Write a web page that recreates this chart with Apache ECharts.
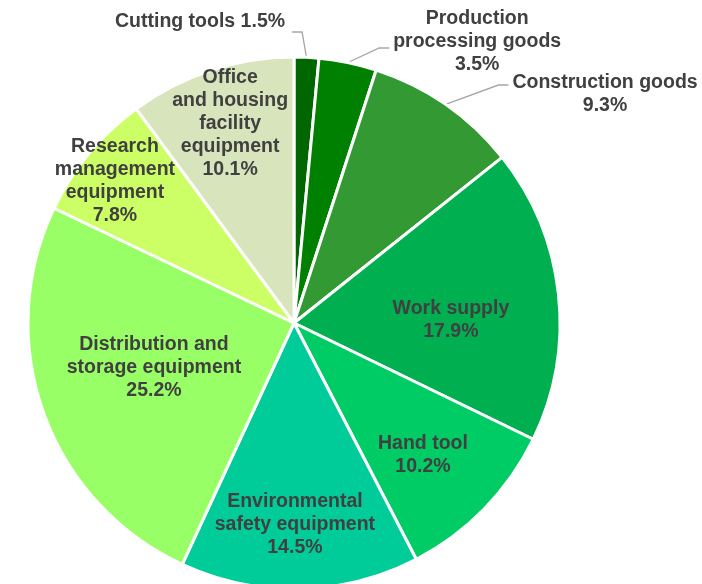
<!DOCTYPE html>
<html>
<head>
<meta charset="utf-8">
<script src="https://cdn.jsdelivr.net/npm/echarts@6/dist/echarts.min.js"></script>
<style>
  html, body { margin: 0; padding: 0; background: #ffffff; }
  #chart { width: 702px; height: 584px; }
</style>
</head>
<body>
<div id="chart"></div>
<script>
// Shares of purchases by item group (percent)
const categories = [
  'Cutting tools',
  'Production processing goods',
  'Construction goods',
  'Work supply',
  'Hand tool',
  'Environmental safety equipment',
  'Distribution and storage equipment',
  'Research management equipment',
  'Office and housing facility equipment'
];
const shares = [1.5, 3.5, 9.3, 17.9, 10.2, 14.5, 25.2, 7.8, 10.1];

// How each label's name is wrapped on the chart
const labelNames = [
  'Cutting tools',
  'Production\nprocessing goods',
  'Construction goods',
  'Work supply',
  'Hand tool',
  'Environmental\nsafety equipment',
  'Distribution and\nstorage equipment',
  'Research\nmanagement\nequipment',
  'Office\nand housing\nfacility\nequipment'
];

const sliceColors = ['#006600', '#008000', '#339933', '#00b050', '#00cc66',
                     '#00cc99', '#99ff66', '#ccff66', '#d8e4bc'];

// Label placement: [distance as a fraction of the radius, angle shift from slice middle in degrees]
const labelSpots = [
  [1.132, -4.4], [1.261, 21.4], [1.452, 18.9],
  [0.590, 5.2], [0.694, 1.4], [0.759, 1.0],
  [0.553, 2.0], [0.859, -1.2], [0.786, 0.4]
];
// Slices whose labels sit outside with a leader line, and the leader's vertical shift
const outsideLabel = [true, true, true, false, false, false, false, false, false];
const leaderDy = [10, 6, -9, 0, 0, 0, 0, 0, 0];

const CX = 294, CY = 323, R = 266;

// Middle angle of every slice, clockwise from 12 o'clock
const total = shares.reduce((a, b) => a + b, 0);
const midAngles = [];
let acc = 0;
shares.forEach(v => { midAngles.push((acc + v / 2) / total * 360); acc += v; });

const chart = echarts.init(document.getElementById('chart'), null, { renderer: 'canvas' });

const data = categories.map((name, i) => ({
  name: name,
  value: shares[i],
  itemStyle: { color: sliceColors[i] },
  label: { position: outsideLabel[i] ? 'outside' : 'inside' },
  labelLine: { show: outsideLabel[i] }
}));

chart.setOption({
  animation: false,
  series: [{
    type: 'pie',
    center: [CX, CY],
    radius: R,
    startAngle: 90,
    clockwise: true,
    avoidLabelOverlap: false,
    data: data,
    itemStyle: { borderColor: '#ffffff', borderWidth: 3 },
    label: {
      show: true,
      color: '#404040',
      fontFamily: 'Liberation Sans, Arial, sans-serif',
      fontWeight: 'bold',
      fontSize: 19.5,
      lineHeight: 23,
      align: 'center',
      formatter: function (p) {
        const pct = p.value.toFixed(1) + '%';
        return p.dataIndex === 0
          ? labelNames[p.dataIndex] + ' ' + pct
          : labelNames[p.dataIndex] + '\n' + pct;
      }
    },
    labelLine: {
      lineStyle: { color: '#a6a6a6', width: 1.3 },
      length: 20,
      length2: 10
    },
    labelLayout: function (p) {
      const i = p.dataIndex;
      const spot = labelSpots[i];
      const a = (midAngles[i] + spot[1]) * Math.PI / 180;
      const x = CX + spot[0] * R * Math.sin(a);
      const y = CY - spot[0] * R * Math.cos(a);
      if (!outsideLabel[i]) {
        return { x: x, y: y, align: 'center', verticalAlign: 'middle' };
      }
      const m = midAngles[i] * Math.PI / 180;
      const start = [CX + R * Math.sin(m), CY - R * Math.cos(m)];
      const w = p.labelRect.width;
      if (i === 0) {
        // label to the left of its leader
        const end = [x + 7, y + leaderDy[i]];
        const elbow = [end[0] + 10, end[1]];
        return { x: x, y: y, align: 'right', verticalAlign: 'middle',
                 labelLinePoints: [start, elbow, end] };
      }
      const end = [x - w / 2 - 4, y + leaderDy[i]];
      const elbow = [end[0] - 10, end[1]];
      return { x: x, y: y, align: 'center', verticalAlign: 'middle',
               labelLinePoints: [start, elbow, end] };
    }
  }]
});
</script>
</body>
</html>
